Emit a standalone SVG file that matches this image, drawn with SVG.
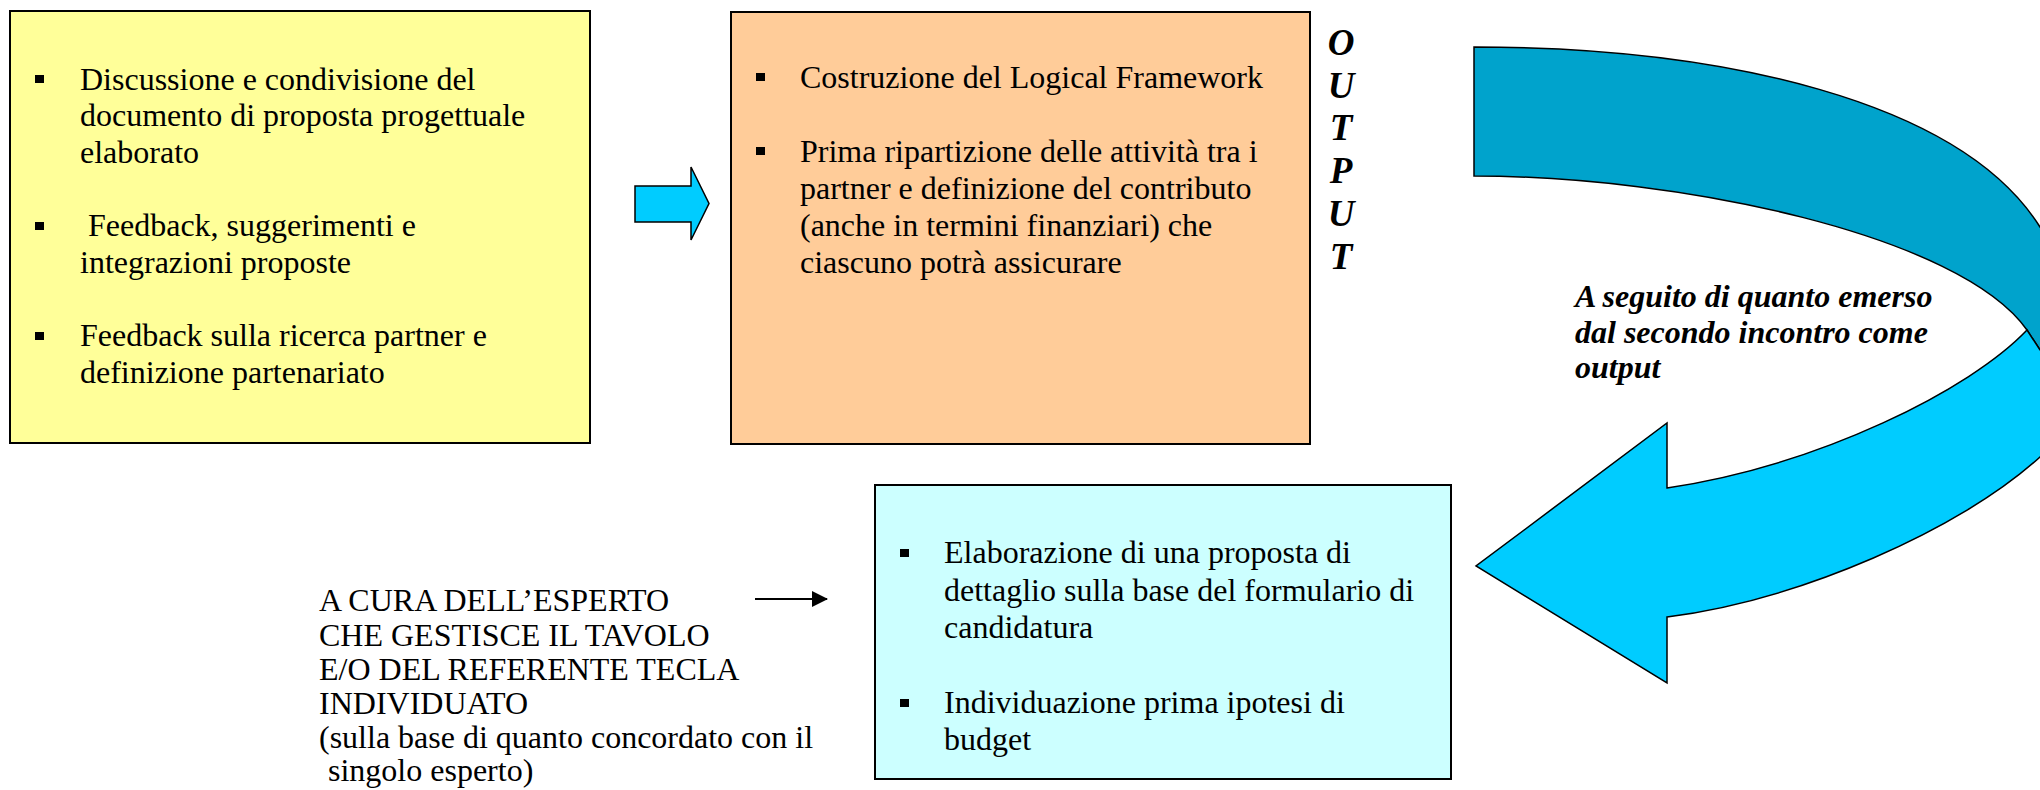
<svg xmlns="http://www.w3.org/2000/svg" width="2040" height="790" viewBox="0 0 2040 790">
<style>
.box{stroke:#000;stroke-width:2}
.t{font-family:"Liberation Serif","Times New Roman",Times,serif;font-size:32px;fill:#000}
.bi{font-family:"Liberation Serif","Times New Roman",Times,serif;font-size:32px;font-weight:bold;font-style:italic;fill:#000}
.out{font-family:"Liberation Serif","Times New Roman",Times,serif;font-size:37px;font-weight:bold;font-style:italic;fill:#000;text-anchor:middle}
.bul{fill:#000}
.arr{stroke:#000;stroke-width:1.5;stroke-linejoin:miter}
</style>
<defs>
<marker id="ah" viewBox="0 0 16 16" refX="15" refY="8" markerWidth="16" markerHeight="16" markerUnits="userSpaceOnUse" orient="auto">
<path d="M0,0 L16,8 L0,16 Z" fill="#000"/>
</marker>
</defs>
<rect width="2040" height="790" fill="#fff"/>

<g id="node-yellow">
<rect class="box" x="10" y="11" width="580" height="432" fill="#FFFF99"/>
<rect class="bul" x="35" y="75" width="9" height="8"/>
<text class="t" x="80" y="90">Discussione e condivisione del</text>
<text class="t" x="80" y="126">documento di proposta progettuale</text>
<text class="t" x="80" y="163">elaborato</text>
<rect class="bul" x="35" y="222" width="9" height="8"/>
<text class="t" x="88" y="236">Feedback, suggerimenti e</text>
<text class="t" x="80" y="273">integrazioni proposte</text>
<rect class="bul" x="35" y="332" width="9" height="8"/>
<text class="t" x="80" y="346">Feedback sulla ricerca partner e</text>
<text class="t" x="80" y="383">definizione partenariato</text>
</g>

<g id="node-orange">
<rect class="box" x="731" y="12" width="579" height="432" fill="#FFCC99"/>
<rect class="bul" x="756" y="73" width="9" height="8"/>
<text class="t" x="800" y="88">Costruzione del Logical Framework</text>
<rect class="bul" x="756" y="147" width="9" height="8"/>
<text class="t" x="800" y="162">Prima ripartizione delle attività tra i</text>
<text class="t" x="800" y="199">partner e definizione del contributo</text>
<text class="t" x="800" y="236">(anche in termini finanziari) che</text>
<text class="t" x="800" y="273">ciascuno potrà assicurare</text>
</g>

<g id="node-output">
<text class="out" x="1341" y="55">O</text>
<text class="out" x="1341" y="98">U</text>
<text class="out" x="1341" y="140">T</text>
<text class="out" x="1341" y="183">P</text>
<text class="out" x="1341" y="226">U</text>
<text class="out" x="1341" y="269">T</text>
</g>

<g id="node-cyan">
<rect class="box" x="875" y="485" width="576" height="294" fill="#CCFFFF"/>
<rect class="bul" x="900" y="549" width="9" height="8"/>
<text class="t" x="944" y="563">Elaborazione di una proposta di</text>
<text class="t" x="944" y="601">dettaglio sulla base del formulario di</text>
<text class="t" x="944" y="638">candidatura</text>
<rect class="bul" x="900" y="699" width="9" height="8"/>
<text class="t" x="944" y="713">Individuazione prima ipotesi di</text>
<text class="t" x="944" y="750">budget</text>
</g>

<g id="node-expert">
<text class="t" x="319" y="611">A CURA DELL’ESPERTO</text>
<text class="t" x="319" y="646">CHE GESTISCE IL TAVOLO</text>
<text class="t" x="319" y="680">E/O DEL REFERENTE TECLA</text>
<text class="t" x="319" y="714">INDIVIDUATO</text>
<text class="t" x="319" y="748">(sulla base di quanto concordato con il</text>
<text class="t" x="328" y="781">singolo esperto)</text>
</g>

<g id="node-note">
<text class="bi" x="1575" y="307">A seguito di quanto emerso</text>
<text class="bi" x="1575" y="343">dal secondo incontro come</text>
<text class="bi" x="1575" y="378">output</text>
</g>

<g id="connectors">
<path class="arr" d="M635,186 L691,186 L691,167 L709,203.5 L691,240 L691,222 L635,222 Z" fill="#00CCFF"/>
<line x1="755" y1="599" x2="827" y2="599" stroke="#000" stroke-width="2" marker-end="url(#ah)"/>
<path class="arr" d="M1474,47 C1720,47 1960,100 2040,227 L2090,300 L2090,380 L2040,350 L2027,330 C1960,235 1680,176 1474,176 Z" fill="#00A3CC"/>
<path class="arr" d="M2027,330 C1970,390 1820,465 1667,488 L1667,423 L1476,566 L1667,683 L1667,617 C1800,600 1960,530 2040,457 L2090,400 L2090,380 L2040,350 Z" fill="#00CCFF"/>
</g>
</svg>
